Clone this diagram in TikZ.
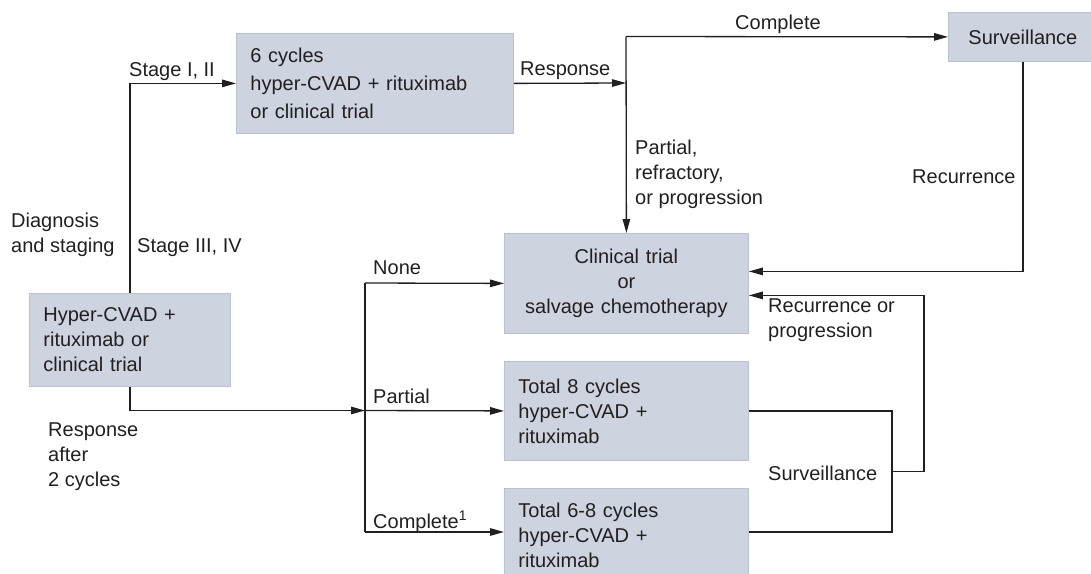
\documentclass[tikz,border=0pt]{standalone}
\usepackage{fontspec}
\setmainfont{Liberation Sans}
\usetikzlibrary{arrows.meta,calc}
\definecolor{boxfill}{HTML}{CDD3DF}
\definecolor{boxline}{HTML}{B9C1CF}
\definecolor{ink}{HTML}{231F20}
\begin{document}
\begin{tikzpicture}[x=1pt,y=-1pt,
  every node/.style={text=ink},
  txt/.style={font=\fontsize{20}{25}\selectfont, inner sep=0pt, align=left, anchor=north west},
  stepbox/.style={draw=boxline, line width=0.8pt, fill=boxfill,
    font=\fontsize{20}{25}\selectfont, inner xsep=14pt, inner ysep=0pt,
    align=left, anchor=north west},
  link/.style={draw=ink, line width=1.3pt},
  arr/.style={link, -{Triangle[length=14pt,width=7.5pt]}},
]
\useasboundingbox (0,0) rectangle (1091,573);

% treatment boxes
\node[stepbox, text width=249pt, minimum height=100pt,
      font=\fontsize{20}{28}\selectfont] (six) at (236,33)
  {6 cycles\\hyper-CVAD + rituximab\\or clinical trial};
\node[stepbox, text width=173pt, minimum height=93pt] (hyp) at (29,293)
  {Hyper-CVAD +\\rituximab or\\clinical trial};
\node[stepbox, text width=216pt, minimum height=100pt, align=center] (clin) at (504,233)
  {Clinical trial\\or\\salvage chemotherapy};
\node[stepbox, text width=216pt, minimum height=99pt] (t8) at (504,361)
  {Total 8 cycles\\hyper-CVAD +\\rituximab};
\node[stepbox, text width=216pt, minimum height=94pt] (t68) at (504,488)
  {Total 6-8 cycles\\hyper-CVAD +\\rituximab};
\node[stepbox, text width=121pt, minimum height=49pt, align=center] (surv) at (948,12)
  {Surveillance};

% junction points
\coordinate (fork) at (626,83);
\coordinate (forktop) at (626,36.5);
\coordinate (split) at (365,410.5);
\coordinate (rtop) at (365,283);
\coordinate (rbot) at (365,532);
\coordinate (sv) at (892,471.5);

% connectors
\draw[arr] (hyp.north) |- (six.west);
\draw[arr] (six.east) -- (fork);
\draw[arr] (forktop) -- (surv.west);
\draw[arr] (forktop) -- (clin.north);
\draw[arr] (surv.south) |- ($(clin.east)+(0,-12)$);
\draw[arr] (hyp.south) |- (split);
\draw[link] (rtop) -- (rbot);
\draw[arr] (rtop) -- (clin.west);
\draw[arr] (split) -- (t8.west);
\draw[arr] (rbot) -- (rbot -| t68.west);
\draw[link] (t8.east) -| (sv) |- (t68.east |- rbot);
\draw[arr] (sv) -- ++(32,0) |- ($(clin.east)+(0,12)$);

% labels
\node[txt] (lst12) at (129,62) {Stage I, II};
\node[txt] (lresp) at (520,62) {Response};
\node[txt] (lcomp) at (735,15) {Complete};
\node[txt] (lpart) at (635,140) {Partial,\\refractory,\\or progression};
\node[txt] (lrec) at (912,170) {Recurrence};
\node[txt] (ldiag) at (11,213) {Diagnosis\\and staging};
\node[txt] (lst34) at (137,238) {Stage III, IV};
\node[txt] (lnone) at (373,261) {None};
\node[txt] (lpar) at (373,389) {Partial};
\node[txt] (lcpl) at (373,511) {Complete\textsuperscript{1}};
\node[txt] (lafter) at (48,423) {Response\\after\\2 cycles};
\node[txt] (lrecp) at (768,299) {Recurrence or\\progression};
\node[txt] (lsurv) at (768,466) {Surveillance};
\end{tikzpicture}
\end{document}
